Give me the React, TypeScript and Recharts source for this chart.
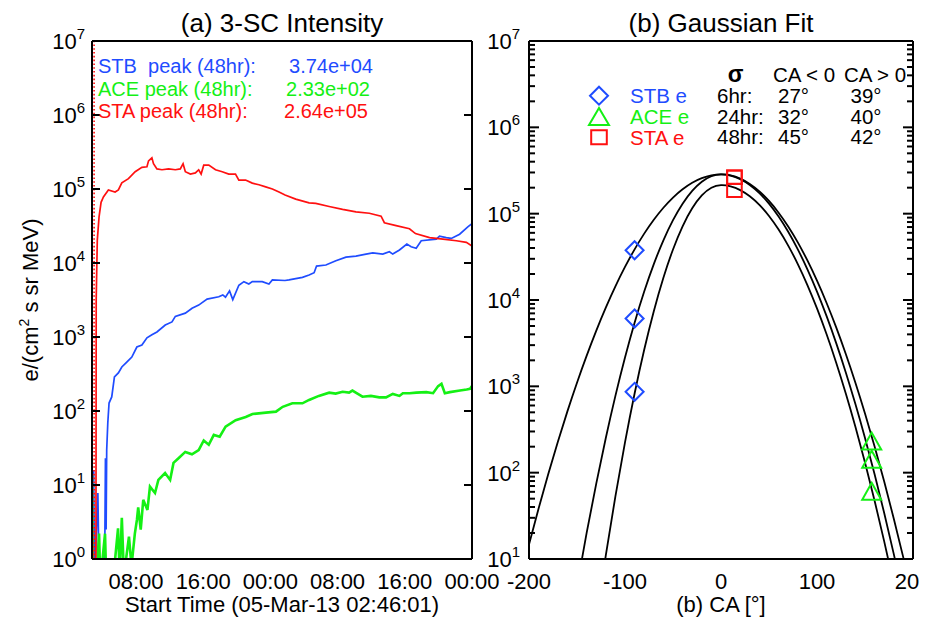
import React from "react";
import { ComposedChart, Line, Scatter, XAxis, YAxis, ReferenceLine } from "recharts";

const FONT = '"Liberation Sans", Arial, Helvetica, sans-serif';
const BLUE = "#1f4cff";
const GREEN = "#14f014";
const RED = "#ff1010";

// ---- panel (a): hours after 05-Mar-13 02:46:01 ----
const START_HOUR = 2 + 46 / 60 + 1 / 3600;
const SPAN = 48 - START_HOUR;
const ONSET = 0.25;

// [hours, e/(cm2 s sr MeV)]
const stbSeries: [number, number][] = [
  [0, 35], [0.1, 0.5], [0.2, 16], [0.3, 0.5], [0.5, 2], [0.7, 7.8], [0.85, 0.5], [1.5, 0.6],
  [1.6, 23], [1.68, 2.5], [1.75, 30], [1.88, 69], [2.03, 128], [2.35, 155], [2.67, 288],
  [3.14, 327], [3.55, 393], [4.14, 458], [4.74, 536], [5.34, 732], [5.94, 780], [6.54, 973],
  [7.13, 1070], [7.73, 1170], [8.72, 1450], [9.52, 1600], [9.92, 1900], [11.11, 2100],
  [11.91, 2450], [12.7, 2700], [13.7, 3250], [15.09, 3500], [15.57, 3700], [15.89, 3450],
  [16.37, 4200], [16.76, 3200], [17.48, 5000], [18.08, 5600], [18.67, 5200], [19.08, 5600],
  [20.27, 5600], [21.06, 5200], [21.47, 5900], [22.97, 5800], [23.45, 5900], [25.05, 6400],
  [25.84, 6900], [26.44, 7400], [26.73, 9100], [27.84, 9400], [29.03, 10700], [30.23, 12000],
  [31.42, 12400], [32.62, 13200], [33.42, 13700], [34.61, 13200], [35.4, 14200], [35.8, 13200],
  [36.6, 15000], [37.48, 18000], [37.99, 16600], [38.59, 15800], [39.19, 20000], [40.98, 21000],
  [41.37, 23000], [42.17, 22000], [42.77, 21500], [43.76, 24500], [44.77, 31000], [45.23, 34000],
];

const aceSeries: [number, number][] = [
  [0, 14], [0.1, 0.5], [0.5, 0.5], [0.84, 2.2], [1.0, 0.5], [1.55, 2.2], [1.7, 0.5], [2.5, 0.5],
  [3.1, 2.6], [3.3, 0.6], [3.55, 3.6], [3.8, 0.6], [4.4, 2.0], [4.7, 0.8], [5.1, 2.2], [5.35, 3.4],
  [5.5, 5.0], [5.8, 2.5], [6.1, 6.3], [6.6, 4.6], [6.9, 9.5], [7.5, 7.8], [7.9, 11.7], [8.7, 14.5],
  [9.3, 11.7], [9.7, 19.9], [10.3, 23], [11.1, 28], [11.9, 26], [12.7, 29.7], [13.3, 40],
  [13.9, 35], [14.5, 47.5], [15.2, 45], [15.9, 61.6], [17.1, 75], [18.3, 83], [19.1, 91],
  [20.7, 95], [21.9, 98], [22.7, 114], [23.85, 127], [25.05, 127], [25.84, 141], [27.0, 160],
  [28.23, 177], [29.0, 172], [29.83, 182], [30.6, 177], [31.0, 189], [31.6, 172], [32.2, 156],
  [33.2, 160], [34.2, 153], [35.0, 153], [35.8, 170], [36.6, 160], [37.0, 174], [37.8, 174],
  [38.6, 177], [39.8, 180], [40.6, 174], [41.2, 217], [41.6, 233], [42.0, 174], [42.6, 180],
  [43.8, 189], [44.6, 195], [45.0, 200], [45.23, 217],
];

const staSeries: [number, number][] = [
  [0, 5], [0.12, 0.4], [0.42, 0.5], [0.47, 1.2], [0.5, 3200], [0.63, 20400], [0.84, 42000],
  [1.08, 66000], [1.36, 78000], [1.95, 97000], [2.75, 91000], [3.14, 97000], [3.55, 121000],
  [4.34, 138000], [5.14, 171000], [5.94, 196000], [6.54, 200000], [6.73, 240000], [7.13, 264000],
  [7.32, 220000], [7.73, 187000], [8.33, 182000], [9.12, 187000], [9.92, 182000], [10.51, 187000],
  [10.84, 220000], [11.11, 171000], [11.71, 159000], [12.31, 165000], [12.7, 182000],
  [12.99, 159000], [13.3, 210000], [13.9, 210000], [14.7, 182000], [15.5, 171000],
  [16.28, 159000], [17.08, 159000], [17.48, 132000], [18.28, 132000], [19.08, 120000],
  [19.87, 114000], [20.67, 107000], [21.47, 100000], [22.26, 91000], [22.98, 83000],
  [24.25, 73000], [25.84, 65000], [26.64, 64000], [28.23, 58000], [29.83, 53000], [31.42, 49000],
  [33.01, 47000], [34.41, 43000], [34.8, 35000], [36.2, 32000], [37.79, 29000], [38.5, 25000],
  [40.18, 22000], [41.78, 21000], [43.37, 20000], [44.56, 19000], [45.23, 17000],
];

const peakLabels = ["STB  peak (48hr):", "ACE peak (48hr):", "STA peak (48hr):"];
const peakValues = ["3.74e+04", "2.33e+02", "2.64e+05"];
const peakColors = [BLUE, GREEN, RED];

// ---- panel (b): Gaussian fits vs connection angle ----
const caGrid = [
  -210, -200, -190, -180, -170, -160, -150, -140, -130, -120, -110, -100, -90, -80, -70, -60,
  -50, -40, -30, -20, -10, 0, 10, 20, 30, 40, 50, 60, 70, 80, 90, 100, 110, 120, 130, 140, 150,
  160, 170, 180, 190, 200,
];
const fit48 = [
  5.3, 14.7, 38.4, 95.7, 227, 513, 1102, 2254, 4395, 8147, 14380, 24140, 38590, 58710, 85040,
  117200, 153800, 192000, 228300, 258300, 278100, 285100, 277100, 254600, 220900, 181100, 140300,
  102700, 71100, 46470, 28710, 16750, 9237, 4814, 2369, 1102, 484, 201, 79, 29.3, 10.3, 3.4,
];
const fit24 = [
  null, null, null, null, null, null, 4.8, 19.9, 74.3, 252, 775, 2160, 5462, 12530, 26050, 49150,
  84100, 130500, 183700, 234600, 271500, 285100, 276300, 251600, 215300, 172900, 130500, 92550,
  61660, 38590, 22690, 12530, 6500, 3167, 1450, 623, 252, 95.6, 34.1, 11.4, 3.6, null,
];
const fit6 = [
  null, null, null, null, null, null, null, null, 2.0, 11.0, 53.2, 224.6, 826.6, 2652, 7421, 18100,
  38490, 71370, 115300, 162500, 199700, 213800, 206900, 187500, 159000, 126400, 93990, 65460,
  42700, 26080, 14910, 7985, 4004, 1880, 826, 340, 131, 47.3, 16.0, 5.1, null, null,
];

const stbCA = -90;
const stbPeaks = [864, 6100, 37700];
const aceCA = 157;
const acePeaks = [61, 143, 232];
const staCA = 14;
const staPeaks = [186000, 264000, 264000];

const sigmaRows = [
  { win: "6hr:", neg: "27°", pos: "39°" },
  { win: "24hr:", neg: "32°", pos: "40°" },
  { win: "48hr:", neg: "45°", pos: "42°" },
];

// ---- axis helpers ----
const timeMajor = [8, 16, 24, 32, 40, 48].map((h) => h - START_HOUR);
const timeMinor = Array.from({ length: 23 }, (_, i) => 2 * i + 4 - START_HOUR);
const decadesA = [1, 10, 100, 1e3, 1e4, 1e5, 1e6, 1e7];
const decadesB = [10, 100, 1e3, 1e4, 1e5, 1e6, 1e7];
const logMinorB = decadesB.slice(0, -1).flatMap((d) => [2, 3, 4, 5, 6, 7, 8, 9].map((k) => k * d));
const caMajor = [-200, -100, 0, 100, 200];
const caMinor = Array.from({ length: 41 }, (_, i) => -200 + 10 * i);

const clock = (t: number) => {
  const h = Math.round(START_HOUR + t) % 24;
  return `${String(h).padStart(2, "0")}:00`;
};

const AXIS = { stroke: "#000", strokeWidth: 2 };
const TICK = { stroke: "#000", strokeWidth: 2 };
const NoLabel = () => <g />;

const PowerTick = (props: any) => {
  const { x, y, payload } = props;
  const exp = Math.round(Math.log10(payload.value));
  return (
    <text x={x} y={y + 8} textAnchor="end" fontFamily={FONT} fontSize={22} fill="#000">
      10
      <tspan dy={-10} fontSize={15}>
        {exp}
      </tspan>
    </text>
  );
};

const diamond = (cx: number, cy: number, r: number) =>
  `M${cx},${cy - r}L${cx + r},${cy}L${cx},${cy + r}L${cx - r},${cy}Z`;
const triangle = (cx: number, cy: number, w: number, h: number) =>
  `M${cx},${cy - h / 2}L${cx + w},${cy + h / 2}L${cx - w},${cy + h / 2}Z`;
const square = (cx: number, cy: number, w: number, h: number) =>
  `M${cx - w},${cy - h}H${cx + w}V${cy + h}H${cx - w}Z`;

const DiamondShape = (p: any) => (
  <path d={diamond(p.cx, p.cy, 9)} fill="none" stroke={BLUE} strokeWidth={2} />
);
const TriangleShape = (p: any) => (
  <path d={triangle(p.cx, p.cy, 9.5, 17)} fill="none" stroke={GREEN} strokeWidth={2} />
);
const SquareShape = (p: any) => (
  <path d={square(p.cx, p.cy, 7.3, 6.7)} fill="none" stroke={RED} strokeWidth={2} />
);

const toPoints = (s: [number, number][]) => s.map(([t, v]) => ({ t, v }));
const toFit = (vals: (number | null)[]) => caGrid.map((ca, i) => ({ ca, v: vals[i] }));
const toMarks = (ca: number, vals: number[]) => vals.map((v) => ({ ca, v }));

// tick-mark-only axes point inwards (mirror) and take 1px each
function IntensityPanel() {
  return (
    <ComposedChart width={505} height={617} margin={{ top: 41, right: 33, bottom: 28, left: 32 }}>
      <XAxis
        xAxisId="t" dataKey="t" type="number" domain={[0, SPAN]} allowDataOverflow
        ticks={timeMajor} interval={0} tickFormatter={clock} tickLine={false} tickSize={6}
        tickMargin={8} axisLine={AXIS} height={30}
        tick={{ fill: "#000", fontSize: 22, fontFamily: FONT }}
      />
      <XAxis xAxisId="tb1" type="number" domain={[0, SPAN]} allowDataOverflow ticks={timeMajor}
        interval={0} mirror height={1} tick={NoLabel} tickSize={9} tickLine={TICK} axisLine={false} />
      <XAxis xAxisId="tb2" type="number" domain={[0, SPAN]} allowDataOverflow ticks={timeMinor}
        interval={0} mirror height={1} tick={NoLabel} tickSize={5} tickLine={TICK} axisLine={false} />
      <XAxis xAxisId="tt1" orientation="top" type="number" domain={[0, SPAN]} allowDataOverflow
        ticks={timeMajor} interval={0} mirror height={1} tick={NoLabel} tickSize={6} tickLine={TICK}
        axisLine={AXIS} />
      <XAxis xAxisId="tt2" orientation="top" type="number" domain={[0, SPAN]} allowDataOverflow
        ticks={timeMinor} interval={0} mirror height={1} tick={NoLabel} tickSize={5} tickLine={TICK}
        axisLine={false} />
      <YAxis
        yAxisId="v" dataKey="v" type="number" scale="log" domain={[1, 1e7]} allowDataOverflow
        ticks={decadesA} interval={0} tick={PowerTick} tickLine={false} tickSize={6} tickMargin={1}
        axisLine={AXIS} width={60}
      />
      <YAxis yAxisId="vl" type="number" scale="log" domain={[1, 1e7]} allowDataOverflow
        ticks={decadesA} interval={0} mirror width={1} tick={NoLabel} tickSize={8} tickLine={TICK}
        axisLine={false} />
      <YAxis yAxisId="vr" orientation="right" type="number" scale="log" domain={[1, 1e7]}
        allowDataOverflow ticks={decadesA} interval={0} mirror width={1} tick={NoLabel} tickSize={8}
        tickLine={TICK} axisLine={AXIS} />
      <Line xAxisId="t" yAxisId="v" data={toPoints(stbSeries)} dataKey="v" type="linear"
        stroke={BLUE} strokeWidth={1.7} dot={false} isAnimationActive={false} />
      <Line xAxisId="t" yAxisId="v" data={toPoints(aceSeries)} dataKey="v" type="linear"
        stroke={GREEN} strokeWidth={2.6} dot={false} isAnimationActive={false} />
      <Line xAxisId="t" yAxisId="v" data={toPoints(staSeries)} dataKey="v" type="linear"
        stroke={RED} strokeWidth={1.7} dot={false} isAnimationActive={false} />
      <ReferenceLine xAxisId="t" yAxisId="v" x={ONSET} stroke={RED} strokeWidth={1.6}
        strokeDasharray="1.6 2.2" />
    </ComposedChart>
  );
}

function FitPanel() {
  return (
    <ComposedChart width={479} height={617} margin={{ top: 41, right: 6, bottom: 28, left: 19 }}>
      <XAxis
        xAxisId="ca" dataKey="ca" type="number" domain={[-200, 200]} allowDataOverflow
        ticks={caMajor} interval={0} tickLine={false} tickSize={6} tickMargin={8} axisLine={AXIS}
        height={30} tick={{ fill: "#000", fontSize: 22, fontFamily: FONT }}
      />
      <XAxis xAxisId="cb1" type="number" domain={[-200, 200]} allowDataOverflow ticks={caMajor}
        interval={0} mirror height={1} tick={NoLabel} tickSize={10} tickLine={TICK} axisLine={false} />
      <XAxis xAxisId="cb2" type="number" domain={[-200, 200]} allowDataOverflow ticks={caMinor}
        interval={0} mirror height={1} tick={NoLabel} tickSize={5} tickLine={TICK} axisLine={false} />
      <XAxis xAxisId="ct1" orientation="top" type="number" domain={[-200, 200]} allowDataOverflow
        ticks={caMajor} interval={0} mirror height={1} tick={NoLabel} tickSize={10} tickLine={TICK}
        axisLine={AXIS} />
      <XAxis xAxisId="ct2" orientation="top" type="number" domain={[-200, 200]} allowDataOverflow
        ticks={caMinor} interval={0} mirror height={1} tick={NoLabel} tickSize={5} tickLine={TICK}
        axisLine={false} />
      <YAxis
        yAxisId="f" dataKey="v" type="number" scale="log" domain={[10, 1e7]} allowDataOverflow
        ticks={decadesB} interval={0} tick={PowerTick} tickLine={false} tickSize={6} tickMargin={3}
        axisLine={AXIS} width={70}
      />
      <YAxis yAxisId="fl1" type="number" scale="log" domain={[10, 1e7]} allowDataOverflow
        ticks={decadesB} interval={0} mirror width={1} tick={NoLabel} tickSize={10} tickLine={TICK}
        axisLine={false} />
      <YAxis yAxisId="fl2" type="number" scale="log" domain={[10, 1e7]} allowDataOverflow
        ticks={logMinorB} interval={0} mirror width={1} tick={NoLabel} tickSize={5} tickLine={TICK}
        axisLine={false} />
      <YAxis yAxisId="fr1" orientation="right" type="number" scale="log" domain={[10, 1e7]}
        allowDataOverflow ticks={decadesB} interval={0} mirror width={1} tick={NoLabel} tickSize={10}
        tickLine={TICK} axisLine={AXIS} />
      <YAxis yAxisId="fr2" orientation="right" type="number" scale="log" domain={[10, 1e7]}
        allowDataOverflow ticks={logMinorB} interval={0} mirror width={1} tick={NoLabel} tickSize={5}
        tickLine={TICK} axisLine={false} />
      <Line xAxisId="ca" yAxisId="f" data={toFit(fit48)} dataKey="v" type="natural" stroke="#000"
        strokeWidth={1.8} dot={false} isAnimationActive={false} />
      <Line xAxisId="ca" yAxisId="f" data={toFit(fit24)} dataKey="v" type="natural" stroke="#000"
        strokeWidth={1.8} dot={false} isAnimationActive={false} />
      <Line xAxisId="ca" yAxisId="f" data={toFit(fit6)} dataKey="v" type="natural" stroke="#000"
        strokeWidth={1.8} dot={false} isAnimationActive={false} />
      <Scatter xAxisId="ca" yAxisId="f" data={toMarks(stbCA, stbPeaks)} dataKey="v"
        shape={DiamondShape} isAnimationActive={false} />
      <Scatter xAxisId="ca" yAxisId="f" data={toMarks(aceCA, acePeaks)} dataKey="v"
        shape={TriangleShape} isAnimationActive={false} />
      <Scatter xAxisId="ca" yAxisId="f" data={toMarks(staCA, staPeaks)} dataKey="v"
        shape={SquareShape} isAnimationActive={false} />
    </ComposedChart>
  );
}

function Annotations() {
  const t = { fontFamily: FONT, fill: "#000" };
  return (
    <svg width={930} height={617} style={{ position: "absolute", left: 0, top: 0, pointerEvents: "none" }}>
      <text x={282} y={32} textAnchor="middle" fontSize={26} {...t}>(a) 3-SC Intensity</text>
      <text x={721} y={32} textAnchor="middle" fontSize={26} {...t}>(b) Gaussian Fit</text>
      <text x={282} y={612} textAnchor="middle" fontSize={22} {...t}>
        Start Time (05-Mar-13 02:46:01)
      </text>
      <text x={721} y={612} textAnchor="middle" fontSize={22} {...t}>(b) CA [°]</text>
      <text x={38} y={300} textAnchor="middle" fontSize={22} {...t} transform="rotate(-90 38 300)">
        e/(cm<tspan dy={-9} fontSize={14}>2</tspan>
        <tspan dy={9}> s sr MeV)</tspan>
      </text>

      {peakLabels.map((label, i) => (
        <g key={label} fontFamily={FONT} fontSize={20} fill={peakColors[i]}>
          <text x={98} y={73 + i * 22.5} style={{ whiteSpace: "pre" }}>{label}</text>
          <text x={[373, 370, 368][i]} y={73 + i * 22.5} textAnchor="end">{peakValues[i]}</text>
        </g>
      ))}

      <path d={diamond(599, 95.7, 9)} fill="none" stroke={BLUE} strokeWidth={2} />
      <path d={triangle(599, 116.5, 10, 17)} fill="none" stroke={GREEN} strokeWidth={2} />
      <path d={square(599, 137.3, 7.8, 7)} fill="none" stroke={RED} strokeWidth={2} />
      <g fontFamily={FONT} fontSize={20.5}>
        <text x={630} y={103} fill={BLUE}>STB e</text>
        <text x={630} y={124} fill={GREEN}>ACE e</text>
        <text x={630} y={144.5} fill={RED}>STA e</text>
      </g>

      <text x={735.5} y={81.5} textAnchor="middle" fontSize={23} fontWeight="bold" {...t}>σ</text>
      <text x={773} y={81.5} fontSize={20.5} {...t}>CA &lt; 0</text>
      <text x={844} y={81.5} fontSize={20.5} {...t}>CA &gt; 0</text>
      {sigmaRows.map((r, i) => (
        <g key={r.win} fontFamily={FONT} fontSize={20.5} fill="#000">
          <text x={717} y={103 + i * 20.7}>{r.win}</text>
          <text x={778} y={103 + i * 20.7}>{r.neg}</text>
          <text x={850.5} y={103 + i * 20.7}>{r.pos}</text>
        </g>
      ))}
    </svg>
  );
}

export default function App() {
  return (
    <div style={{ position: "absolute", left: 0, top: 0, width: 930, height: 617, background: "#fff", fontFamily: FONT }}>
      <div style={{ position: "absolute", left: 0, top: 0 }}>
        <IntensityPanel />
      </div>
      <div style={{ position: "absolute", left: 440, top: 0, width: 479, height: 617, overflow: "hidden" }}>
        <FitPanel />
      </div>
      <Annotations />
    </div>
  );
}
